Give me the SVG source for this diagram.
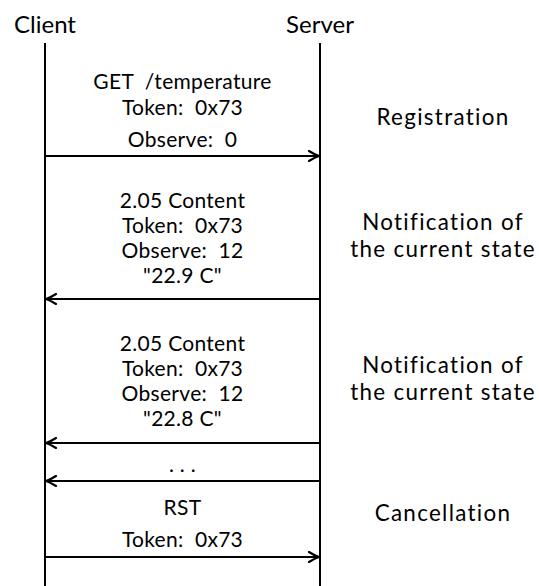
<svg xmlns="http://www.w3.org/2000/svg" width="539" height="586" viewBox="0 0 539 586">
  <style>
    text { font-family: Lato, "Open Sans", sans-serif; fill: #000; text-anchor: middle; }
    .actor { font-size: 24px; }
    .msg { font-size: 21px; letter-spacing: 0.3px; }
    .phase { font-size: 22.4px; letter-spacing: 1.3px; }
    .life { stroke: #000; stroke-width: 2; fill: none; }
    .arrow { stroke: #000; stroke-width: 2; fill: none; marker-end: url(#head); }
  </style>
  <defs>
    <marker id="head" viewBox="-12 -6 13 12" markerWidth="13" markerHeight="12" refX="0" refY="0" orient="auto" markerUnits="userSpaceOnUse">
      <path d="M-10,-5 Q-4,-1.2 0,0 Q-4,1.2 -10,5" fill="none" stroke="#000" stroke-width="2.2" stroke-linecap="round" stroke-linejoin="round"/>
    </marker>
  </defs>

  <!-- participants and their lifelines -->
  <g id="client">
    <text class="actor" x="45" y="33">Client</text>
    <line class="life" x1="45" y1="43" x2="45" y2="586"/>
  </g>
  <g id="server">
    <text class="actor" x="320" y="33">Server</text>
    <line class="life" x1="320" y1="43" x2="320" y2="586"/>
  </g>

  <!-- messages between client and server -->
  <g id="connectors">
    <line class="arrow" x1="45" y1="156" x2="319" y2="156"/>
    <line class="arrow" x1="320" y1="299" x2="46" y2="299"/>
    <line class="arrow" x1="320" y1="443" x2="46" y2="443"/>
    <line class="arrow" x1="320" y1="481" x2="46" y2="481"/>
    <line class="arrow" x1="45" y1="557" x2="319" y2="557"/>
  </g>

  <g id="msg-register">
    <text class="msg" x="182.5" y="89">GET&#160; /temperature</text>
    <text class="msg" x="182.5" y="115">Token:&#160; 0x73</text>
    <text class="msg" x="182.5" y="147">Observe:&#160; 0</text>
  </g>
  <g id="msg-notify-1">
    <text class="msg" x="182.5" y="208">2.05 Content</text>
    <text class="msg" x="182.5" y="233">Token:&#160; 0x73</text>
    <text class="msg" x="182.5" y="258">Observe:&#160; 12</text>
    <text class="msg" x="182.5" y="283">"22.9 C"</text>
  </g>
  <g id="msg-notify-2">
    <text class="msg" x="182.5" y="351">2.05 Content</text>
    <text class="msg" x="182.5" y="376">Token:&#160; 0x73</text>
    <text class="msg" x="182.5" y="401">Observe:&#160; 12</text>
    <text class="msg" x="182.5" y="426">"22.8 C"</text>
  </g>
  <g id="msg-more">
    <text class="msg" x="182.5" y="472">. . .</text>
  </g>
  <g id="msg-cancel">
    <text class="msg" x="182.5" y="515">RST</text>
    <text class="msg" x="182.5" y="547">Token:&#160; 0x73</text>
  </g>

  <!-- phase labels -->
  <g id="phase-registration">
    <text class="phase" x="443" y="125">Registration</text>
  </g>
  <g id="phase-notification-1">
    <text class="phase" x="443" y="230">Notification of</text>
    <text class="phase" x="443" y="257">the current state</text>
  </g>
  <g id="phase-notification-2">
    <text class="phase" x="443" y="373">Notification of</text>
    <text class="phase" x="443" y="400">the current state</text>
  </g>
  <g id="phase-cancellation">
    <text class="phase" x="443" y="521">Cancellation</text>
  </g>
</svg>
